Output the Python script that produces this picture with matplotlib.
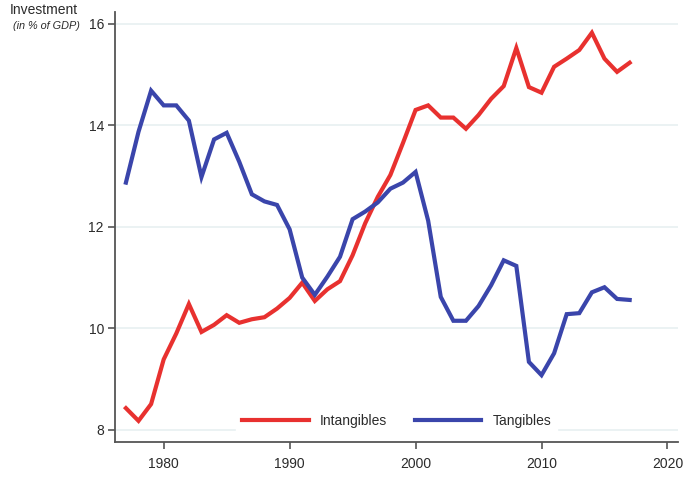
import matplotlib.pyplot as plt
import numpy as np

years = np.arange(1977, 2018)

intangibles = [8.43, 8.18, 8.51, 9.39, 9.90, 10.48, 9.93, 10.07, 10.26, 10.11,
               10.18, 10.22, 10.39, 10.60, 10.90, 10.54, 10.77, 10.93, 11.44, 12.07,
               12.59, 13.02, 13.65, 14.30, 14.39, 14.15, 14.15, 13.93, 14.20, 14.52,
               14.77, 15.52, 14.75, 14.64, 15.15, 15.31, 15.48, 15.82, 15.31, 15.05,
               15.23]

tangibles = [12.87, 13.87, 14.68, 14.39, 14.39, 14.09, 12.98, 13.72, 13.85, 13.28,
             12.64, 12.50, 12.43, 11.95, 11.00, 10.66, 11.02, 11.41, 12.15, 12.30,
             12.48, 12.75, 12.87, 13.08, 12.12, 10.62, 10.15, 10.15, 10.44, 10.85,
             11.34, 11.23, 9.34, 9.08, 9.51, 10.28, 10.30, 10.71, 10.81, 10.58,
             10.56]

y_ticks = [8, 10, 12, 14, 16]
x_ticks = [1980, 1990, 2000, 2010, 2020]

plt.rcParams['font.family'] = ['Liberation Sans', 'DejaVu Sans']

fig = plt.figure(figsize=(6.85, 4.78), dpi=100)
ax = fig.add_axes([0.168, 0.076, 0.822, 0.898])

# light horizontal grid
for y in y_ticks:
    ax.axhline(y, color='#e8f0f1', lw=1.2, zorder=0)

ax.plot(years, intangibles, color='#e8312f', lw=3, label='Intangibles',
        solid_joinstyle='miter', zorder=3)
ax.plot(years, tangibles, color='#3a45ab', lw=3, label='Tangibles',
        solid_joinstyle='miter', zorder=3)

ax.set_xlim(1976.14, 2020.85)
ax.set_ylim(7.77, 16.22)
ax.set_xticks(x_ticks)
ax.set_yticks(y_ticks)

for side in ['top', 'right']:
    ax.spines[side].set_visible(False)
for side in ['left', 'bottom']:
    ax.spines[side].set_color('#555555')
    ax.spines[side].set_linewidth(1.3)

ax.tick_params(axis='both', direction='out', length=5, width=1.2,
               color='#555555', labelsize=10, labelcolor='#2b2b2b')
ax.tick_params(axis='y', pad=3)
ax.tick_params(axis='x', pad=6)

leg = ax.legend(loc='lower center', ncol=2, frameon=True, fancybox=False,
                edgecolor='white', facecolor='white', framealpha=1,
                handlelength=4.8, handletextpad=0.8, columnspacing=2.0,
                fontsize=10, borderaxespad=0.6, borderpad=0.4)
for t in leg.get_texts():
    t.set_color('#2b2b2b')

fig.text(0.114, 0.980, 'Investment', ha='right', va='center',
         fontsize=10, color='#2b2b2b')
fig.text(0.116, 0.946, '(in % of GDP)', ha='right', va='center',
         fontsize=7.8, style='italic', color='#2b2b2b')

fig.savefig('out.png', dpi=100)
